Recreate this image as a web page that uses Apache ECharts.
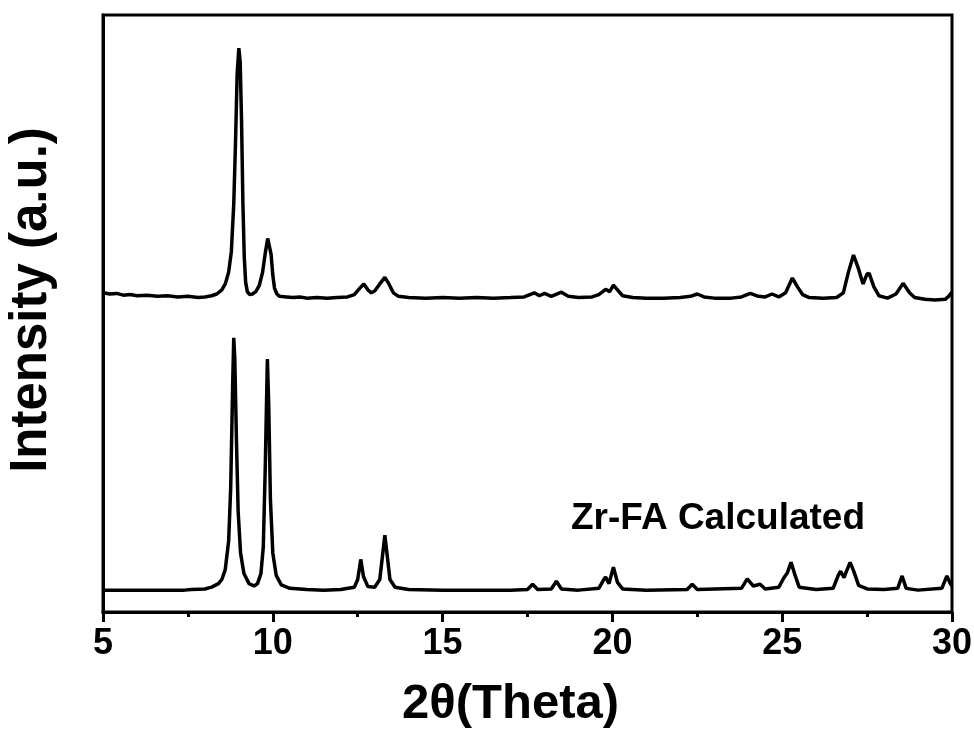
<!DOCTYPE html>
<html>
<head>
<meta charset="utf-8">
<script src="https://cdn.jsdelivr.net/npm/echarts@6/dist/echarts.min.js"></script>
<style>
  html, body { margin: 0; padding: 0; background: #fff; }
  #xrd { width: 974px; height: 729px; }
</style>
</head>
<body>
<div id="xrd"></div>
<script>
// measured pattern (top curve), 2theta and intensity in a.u.
var expTheta = [5.0, 5.2, 5.4, 5.6, 5.8, 6.0, 6.3, 6.6, 6.9, 7.2, 7.5, 7.8, 8.0, 8.2, 8.35, 8.5, 8.6, 8.7, 8.78, 8.85, 8.9, 8.95, 9.0, 9.04, 9.08, 9.12, 9.16, 9.2, 9.25, 9.32, 9.4, 9.5, 9.6, 9.7, 9.78, 9.85, 9.9, 9.95, 10.0, 10.05, 10.12, 10.2, 10.4, 10.6, 10.8, 11.0, 11.3, 11.6, 11.9, 12.2, 12.4, 12.55, 12.68, 12.8, 12.9, 13.0, 13.15, 13.3, 13.42, 13.55, 13.7, 14.0, 14.5, 15.0, 15.5, 16.0, 16.5, 17.0, 17.4, 17.7, 17.85, 18.0, 18.2, 18.5, 18.7, 19.0, 19.4, 19.6, 19.8, 19.92, 20.03, 20.15, 20.3, 20.6, 21.0, 21.5, 22.0, 22.3, 22.5, 22.7, 23.0, 23.5, 23.8, 24.06, 24.3, 24.5, 24.7, 24.9, 25.1, 25.3, 25.45, 25.6, 25.8, 26.2, 26.6, 26.8, 26.95, 27.1, 27.25, 27.38, 27.5, 27.56, 27.7, 27.85, 28.1, 28.35, 28.56, 28.75, 28.9, 29.2, 29.5, 29.8, 29.9, 30.0];
var expIntensity = [530, 528, 529, 526, 527, 525, 526, 524, 525, 523, 524, 522, 523, 525, 528, 535, 545, 565, 600, 680, 780, 900, 944, 920, 820, 680, 590, 548, 532, 527, 528, 532, 542, 565, 598, 622, 620, 595, 560, 538, 528, 524, 523, 522, 523, 521, 522, 521, 522, 523, 527, 537, 545, 535, 530, 533, 545, 556, 545, 530, 524, 522, 521, 522, 521, 522, 521, 522, 523, 530, 525, 529, 524, 531, 524, 522, 523, 527, 536, 532, 543, 535, 525, 522, 521, 521, 522, 524, 528, 523, 521, 521, 523, 529, 524, 523, 528, 523, 530, 555, 540, 527, 522, 521, 522, 530, 565, 594, 570, 545, 562, 563, 540, 525, 521, 528, 546, 530, 522, 519, 518, 519, 524, 531];

// calculated pattern (bottom curve)
var calcTheta = [5.0, 7.4, 7.6, 8.0, 8.2, 8.4, 8.5, 8.6, 8.7, 8.76, 8.82, 8.85, 8.88, 8.93, 8.98, 9.05, 9.15, 9.3, 9.45, 9.55, 9.65, 9.72, 9.78, 9.84, 9.88, 9.93, 10.0, 10.1, 10.25, 10.5, 11.0, 11.5, 12.0, 12.4, 12.5, 12.59, 12.67, 12.8, 13.0, 13.15, 13.25, 13.3, 13.36, 13.45, 13.6, 14.0, 15.0, 16.0, 17.0, 17.5, 17.65, 17.8, 18.2, 18.35, 18.5, 19.0, 19.6, 19.75, 19.8, 19.9, 20.03, 20.15, 20.3, 21.0, 22.2, 22.35, 22.5, 23.8, 23.97, 24.15, 24.35, 24.5, 24.9, 25.05, 25.15, 25.26, 25.38, 25.5, 26.0, 26.5, 26.65, 26.72, 26.82, 26.9, 27.0, 27.1, 27.25, 27.5, 28.0, 28.4, 28.53, 28.65, 29.0, 29.7, 29.85, 29.95, 30.0];
var calcIntensity = [27, 27, 28, 29, 32, 38, 45, 62, 110, 200, 380, 454, 420, 280, 160, 90, 55, 38, 34, 38, 55, 100, 240, 418, 340, 180, 90, 52, 36, 30, 28, 27, 28, 32, 45, 79, 50, 33, 32, 45, 95, 120, 90, 45, 32, 28, 27, 27, 27, 28, 37, 28, 29, 42, 29, 27, 30, 45, 49, 38, 66, 40, 29, 27, 28, 37, 28, 30, 46, 34, 37, 29, 32, 48, 56, 74, 52, 32, 28, 30, 52, 59, 48, 60, 74, 60, 35, 29, 28, 30, 51, 30, 27, 30, 51, 38, 34];

var xTicks = [5, 10, 15, 20, 25, 30];

function pairs(xs, ys) {
  var out = [];
  for (var i = 0; i < xs.length; i++) out.push([xs[i], ys[i]]);
  return out;
}

var chart = echarts.init(document.getElementById('xrd'));

var font = 'Liberation Sans, Arial, sans-serif';

var option = {
  backgroundColor: '#fff',
  animation: false,
  grid: {
    left: 103, right: 22, top: 15, bottom: 117,
    outerBoundsMode: 'none',
    containLabel: false,
    show: true, borderColor: '#000', borderWidth: 3, backgroundColor: 'transparent'
  },
  xAxis: {
    type: 'value',
    min: xTicks[0],
    max: xTicks[xTicks.length - 1],
    interval: 5,
    name: '2\u03B8(Theta)',
    nameLocation: 'middle',
    nameGap: 68,
    nameTextStyle: { color: '#000', fontFamily: font, fontWeight: 'bold', fontSize: 49, padding: [0, 34, 0, 0] },
    axisLine: { onZero: false, lineStyle: { color: '#000', width: 3 } },
    axisTick: { show: true, inside: false, length: 10, lineStyle: { color: '#000', width: 3 } },
    minorTick: { show: true, splitNumber: 2, length: 5, lineStyle: { color: '#000', width: 3 } },
    axisLabel: { color: '#000', fontFamily: font, fontWeight: 'bold', fontSize: 36, margin: 14 },
    splitLine: { show: false }
  },
  yAxis: {
    type: 'value',
    min: -10,
    max: 1000,
    name: 'Intensity (a.u.)',
    nameLocation: 'middle',
    nameGap: 46,
    nameTextStyle: { color: '#000', fontFamily: font, fontWeight: 'bold', fontSize: 51, padding: [0, 0, 0, 27] },
    axisLine: { onZero: false, lineStyle: { color: '#000', width: 3 } },
    axisTick: { show: false },
    axisLabel: { show: false },
    splitLine: { show: false }
  },
  graphic: [{
    type: 'text',
    left: 571,
    top: 500,
    style: {
      text: 'Zr-FA Calculated',
      fill: '#000',
      font: 'bold 37px ' + font,
      textVerticalAlign: 'middle'
    }
  }],
  series: [
    {
      type: 'line', name: 'Zr-FA', data: pairs(expTheta, expIntensity),
      showSymbol: false, smooth: false,
      lineStyle: { color: '#000', width: 3.5 }
    },
    {
      type: 'line', name: 'Zr-FA Calculated', data: pairs(calcTheta, calcIntensity),
      showSymbol: false, smooth: false,
      lineStyle: { color: '#000', width: 3.5 }
    }
  ]
};

chart.setOption(option);
</script>
</body>
</html>
